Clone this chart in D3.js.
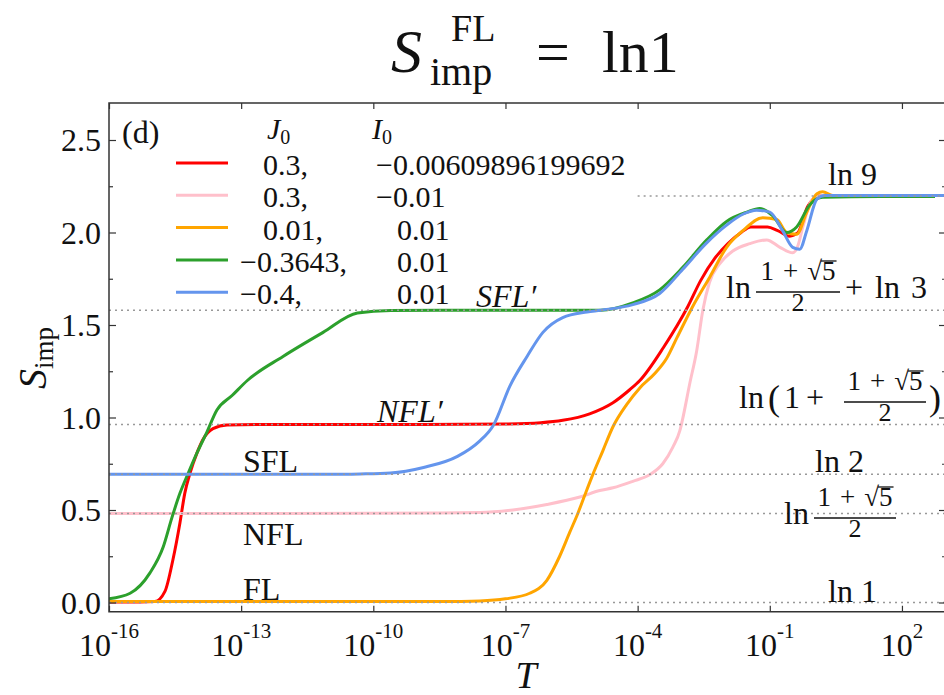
<!DOCTYPE html>
<html>
<head>
<meta charset="utf-8">
<script src="https://cdn.jsdelivr.net/npm/d3@7"></script>
<style>
  body { margin: 0; background: #fff; }
  text { font-family: "Liberation Serif", "DejaVu Serif", serif; fill: #111; }
</style>
</head>
<body>
<svg id="chart" width="944" height="695"></svg>
<script>
// ---- data (log10 T, S_imp) ----
var xTickExps = [-16, -13, -10, -7, -4, -1, 2];
var yTicks = [0, 0.5, 1.0, 1.5, 2.0, 2.5];
var yMinorTicks = [0.25, 0.75, 1.25, 1.75, 2.25];

var legendJ = ["0.3,", "0.3,", "0.01,", "\u22120.3643,", "\u22120.4,"];
var legendI = ["\u22120.00609896199692", "\u22120.01", "0.01", "0.01", "0.01"];
var colors = ["#ff0000", "#ffc0cb", "#ffa500", "#2ca02c", "#6495ed"];

var redLogT = [-16, -15.3, -14.96, -14.73, -14.55, -14.39, -14.28, -14.16, -14.0, -13.87, -13.64, -13.32, -12.5, -10, -8, -7, -6.2, -5.7, -5.09, -4.56, -4.18, -3.95, -3.41, -2.86, -2.57, -2.25, -1.95, -1.65, -1.43, -1.05, -0.82, -0.55, -0.36, -0.14, 0.16, 0.5, 1.5, 2.75];
var redS    = [0.003, 0.003, 0.005, 0.06, 0.23, 0.43, 0.59, 0.70, 0.81, 0.88, 0.94, 0.96, 0.962, 0.962, 0.963, 0.965, 0.972, 0.985, 1.02, 1.08, 1.15, 1.20, 1.38, 1.60, 1.74, 1.86, 1.94, 2.00, 2.03, 2.03, 2.01, 1.98, 2.00, 2.14, 2.20, 2.20, 2.20, 2.20];

var pinkLogT = [-16, -12, -10, -8.5, -7.58, -6.83, -6.06, -5.31, -4.86, -4.56, -4.11, -3.73, -3.43, -3.2, -3.04, -2.98, -2.82, -2.66, -2.52, -2.37, -2.14, -1.84, -1.45, -1.07, -0.77, -0.48, -0.36, -0.25, -0.03, 0.2, 1.5, 2.75];
var pinkS    = [0.481, 0.481, 0.482, 0.484, 0.486, 0.50, 0.53, 0.57, 0.605, 0.62, 0.655, 0.69, 0.75, 0.84, 0.93, 0.99, 1.18, 1.36, 1.58, 1.73, 1.83, 1.90, 1.94, 1.96, 1.92, 1.89, 1.93, 2.03, 2.18, 2.20, 2.20, 2.20];

var orangeLogT = [-16, -10, -8, -7.58, -7.0, -6.45, -6.06, -5.77, -5.54, -5.36, -5.2, -5.02, -4.79, -4.56, -4.25, -3.95, -3.6, -3.34, -3.11, -2.75, -2.36, -1.98, -1.61, -1.16, -0.84, -0.62, -0.39, -0.16, 0.07, 0.2, 0.43, 1.5, 2.75];
var orangeS    = [0.005, 0.005, 0.006, 0.008, 0.02, 0.05, 0.12, 0.25, 0.38, 0.48, 0.58, 0.69, 0.82, 0.95, 1.07, 1.16, 1.24, 1.32, 1.43, 1.60, 1.76, 1.92, 2.01, 2.08, 2.07, 2.00, 1.99, 2.11, 2.21, 2.22, 2.20, 2.20, 2.20];

var greenLogT = [-16, -15.52, -15.07, -14.77, -14.57, -14.39, -14.2, -14.0, -13.78, -13.55, -13.2, -12.86, -12.05, -11.14, -10.36, -9.6, -8, -6, -4.84, -4.11, -3.5, -2.98, -2.43, -1.98, -1.52, -1.23, -0.93, -0.62, -0.39, -0.09, 0.2, 1.5, 2.75];
var greenS    = [0.02, 0.05, 0.16, 0.30, 0.46, 0.59, 0.70, 0.81, 0.92, 1.04, 1.12, 1.20, 1.33, 1.46, 1.565, 1.578, 1.58, 1.58, 1.58, 1.62, 1.69, 1.81, 1.96, 2.06, 2.11, 2.13, 2.09, 2.00, 2.03, 2.15, 2.19, 2.195, 2.195];

var blueLogT = [-16, -11, -10.3, -9.61, -8.86, -8.09, -7.6, -7.27, -6.9, -6.51, -6.15, -5.7, -5.15, -4.84, -4.11, -3.5, -2.98, -2.45, -1.98, -1.6, -1.3, -1.0, -0.71, -0.48, -0.32, -0.16, 0.07, 0.25, 1.5, 3];
var blueS    = [0.693, 0.693, 0.695, 0.70, 0.73, 0.79, 0.87, 0.96, 1.17, 1.33, 1.46, 1.54, 1.57, 1.58, 1.61, 1.67, 1.80, 1.94, 2.04, 2.10, 2.12, 2.11, 2.01, 1.92, 1.91, 2.01, 2.18, 2.20, 2.20, 2.20];

var phi = (1 + Math.sqrt(5)) / 2;
var levelS = [Math.log(9), Math.log(phi) + Math.log(3), Math.log(1 + phi), Math.log(2), Math.log(phi), 0];
var levelFromExp = [-4, -16, -16, -16, -16, -16];

// ---- chart ----
var svg = d3.select("#chart");
var pLeft = 109, pRight = 946, pTop = 103, pBottom = 611.75;

var x = d3.scaleLog().domain([1e-16, 1e3]).range([pLeft, pRight]);
var y = d3.scaleLinear().domain([-0.05, 2.7]).range([pBottom, pTop]);

svg.append("clipPath").attr("id", "clip")
  .append("rect").attr("x", pLeft).attr("y", pTop)
  .attr("width", pRight - pLeft).attr("height", pBottom - pTop);

var series = [
  {logT: redLogT, s: redS, color: colors[0]},
  {logT: pinkLogT, s: pinkS, color: colors[1]},
  {logT: orangeLogT, s: orangeS, color: colors[2]},
  {logT: greenLogT, s: greenS, color: colors[3]},
  {logT: blueLogT, s: blueS, color: colors[4]}
];

var line = d3.line()
  .x(function(d) { return x(d[0]); })
  .y(function(d) { return y(d[1]); })
  .curve(d3.curveMonotoneX);

series.forEach(function(sr) {
  var pts = sr.logT.map(function(e, i) { return [Math.pow(10, e), sr.s[i]]; });
  svg.append("path")
    .attr("clip-path", "url(#clip)")
    .attr("d", line(pts))
    .attr("fill", "none")
    .attr("stroke", sr.color)
    .attr("stroke-width", 3)
    .attr("stroke-linejoin", "round");
});

// dotted reference levels, drawn over the curves
levelS.forEach(function(v, i) {
  svg.append("line")
    .attr("x1", x(Math.pow(10, levelFromExp[i]))).attr("x2", pRight)
    .attr("y1", y(v)).attr("y2", y(v))
    .attr("stroke", "#999").attr("stroke-width", 1.5)
    .attr("stroke-dasharray", "2,4");
});

// ticks (inward, on all four sides)
function noDomain(g) { g.select(".domain").remove(); g.selectAll("line").attr("stroke", "#333").attr("stroke-width", 1.2); }
var xTickVals = xTickExps.map(function(e) { return Math.pow(10, e); });

svg.append("g").attr("transform", "translate(0," + pBottom + ")")
  .call(d3.axisBottom(x).tickValues(xTickVals).tickSizeInner(-6).tickSizeOuter(0).tickFormat("")).call(noDomain);
svg.append("g").attr("transform", "translate(0," + pTop + ")")
  .call(d3.axisTop(x).tickValues(xTickVals).tickSizeInner(-6).tickSizeOuter(0).tickFormat("")).call(noDomain);
svg.append("g").attr("transform", "translate(" + pLeft + ",0)")
  .call(d3.axisLeft(y).tickValues(yTicks).tickSizeInner(-7).tickSizeOuter(0).tickFormat("")).call(noDomain);
svg.append("g").attr("transform", "translate(" + pLeft + ",0)")
  .call(d3.axisLeft(y).tickValues(yMinorTicks).tickSizeInner(-4).tickSizeOuter(0).tickFormat("")).call(noDomain);
svg.append("g").attr("transform", "translate(" + pRight + ",0)")
  .call(d3.axisRight(y).tickValues(yTicks).tickSizeInner(-7).tickSizeOuter(0).tickFormat("")).call(noDomain);
svg.append("g").attr("transform", "translate(" + pRight + ",0)")
  .call(d3.axisRight(y).tickValues(yMinorTicks).tickSizeInner(-4).tickSizeOuter(0).tickFormat("")).call(noDomain);

svg.append("rect")
  .attr("x", pLeft).attr("y", pTop).attr("width", pRight - pLeft).attr("height", pBottom - pTop)
  .attr("fill", "none").attr("stroke", "#333").attr("stroke-width", 1.5);

// tick labels
xTickExps.forEach(function(e) {
  var t = svg.append("text").attr("x", x(Math.pow(10, e))).attr("y", 656)
    .attr("text-anchor", "middle").style("font-size", "32px");
  t.append("tspan").text("10");
  t.append("tspan").attr("dy", -18).style("font-size", "21px").text((e < 0 ? "-" : "") + Math.abs(e));
});
yTicks.forEach(function(v) {
  svg.append("text").attr("x", 101).attr("y", y(v) + 11)
    .attr("text-anchor", "end").style("font-size", "32px")
    .text(d3.format(".1f")(v));
});

// axis labels
svg.append("text").attr("x", 526).attr("y", 688).attr("text-anchor", "middle")
  .style("font-size", "38px").style("font-style", "italic").text("T");
var yl = svg.append("text").attr("transform", "translate(46,358) rotate(-90)").attr("text-anchor", "middle");
yl.append("tspan").style("font-size", "40px").style("font-style", "italic").text("S");
yl.append("tspan").attr("dy", 7).style("font-size", "27px").text("imp");

function txt(xp, yp, s, size, italic, anchor) {
  return svg.append("text").attr("x", xp).attr("y", yp)
    .attr("text-anchor", anchor || "start")
    .style("font-size", size + "px").style("font-style", italic ? "italic" : "normal")
    .text(s);
}

// title S_imp^FL = ln1 (one text element, scripts placed by tspans)
var title = svg.append("text").attr("x", 391).attr("y", 72);
title.append("tspan").style("font-size", "62px").style("font-style", "italic").text("S");
title.append("tspan").attr("x", 451).attr("y", 41).style("font-size", "38px").text("FL");
title.append("tspan").attr("x", 430).attr("y", 85).style("font-size", "40px").text("imp");
title.append("tspan").attr("x", 536).attr("y", 72).style("font-size", "60px").text("=");
title.append("tspan").attr("x", 602).attr("y", 72).style("font-size", "60px").text("ln1");

// fraction (1+sqrt5)/2 centred at cx with bar at by
function phiFrac(cx, by, w) {
  var num = svg.append("text").attr("x", cx).attr("y", by - 12).attr("text-anchor", "middle")
    .style("font-size", "27px").text("1\u2004+\u2004\u221a5");
  var n = num.node();
  var i5 = 5;
  var x0 = n.getStartPositionOfChar(i5).x, x1 = n.getEndPositionOfChar(i5).x;
  svg.append("line").attr("x1", x0 - 1).attr("x2", x1 + 1)
    .attr("y1", by - 31).attr("y2", by - 31).attr("stroke", "#111").attr("stroke-width", 1.3);
  svg.append("line").attr("x1", cx - w / 2).attr("x2", cx + w / 2)
    .attr("y1", by).attr("y2", by).attr("stroke", "#111").attr("stroke-width", 1.6);
  txt(cx, by + 19, "2", 26, false, "middle");
}

// level annotations
txt(828, 185, "ln 9", 32, false);

txt(726, 298, "ln", 32, false);
phiFrac(798, 292, 84);
txt(845, 298, "+", 32, false);
txt(875, 298, "ln", 32, false);
txt(911, 298, "3", 32, false);

txt(739, 408, "ln", 32, false);
txt(768, 410, "(", 36, false);
txt(784, 408, "1", 32, false);
txt(806, 408, "+", 32, false);
phiFrac(885, 402, 82);
txt(929, 410, ")", 36, false);

txt(815, 472, "ln 2", 32, false);

txt(784, 524, "ln", 32, false);
phiFrac(855, 518, 82);

txt(828, 602, "ln 1", 32, false);

// phase labels
txt(476, 307, "SFL\u2032", 32, true);
txt(377, 422, "NFL\u2032", 32, true);
txt(243, 472, "SFL", 32, false);
txt(243, 545, "NFL", 32, false);
txt(243, 600, "FL", 32, false);

// legend
txt(122, 143, "(d)", 32, false);
var h1 = svg.append("text").attr("x", 267).attr("y", 139).style("font-size", "30px");
h1.append("tspan").style("font-style", "italic").text("J");
h1.append("tspan").attr("dy", 5).style("font-size", "20px").text("0");
var h2 = svg.append("text").attr("x", 372).attr("y", 139).style("font-size", "30px");
h2.append("tspan").style("font-style", "italic").text("I");
h2.append("tspan").attr("dy", 5).style("font-size", "20px").text("0");

legendJ.forEach(function(lab, i) {
  var ly = 163 + i * 32.3;
  svg.append("line").attr("x1", 176).attr("x2", 228).attr("y1", ly).attr("y2", ly)
    .attr("stroke", colors[i]).attr("stroke-width", 3);
  txt(lab.charAt(0) === "\u2212" ? 240 : 263, ly + 12, lab, 30, false);
  var li = legendI[i];
  txt(li.charAt(0) === "\u2212" ? 376 : 397, ly + 12, li, 30, false);
});
</script>
</body>
</html>
